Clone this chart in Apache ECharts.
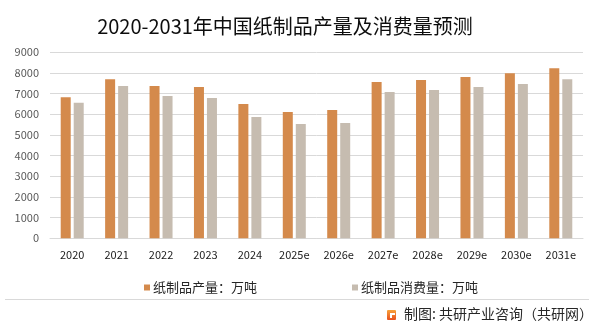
<!DOCTYPE html>
<html>
<head>
<meta charset="utf-8">
<script src="https://cdn.jsdelivr.net/npm/echarts@6/dist/echarts.min.js"></script>
<style>html,body{margin:0;padding:0;background:#fff;}#c{width:596px;height:330px;}</style>
</head>
<body>
<div id="c"></div>
<script>
var categories = ['2020','2021','2022','2023','2024','2025e','2026e','2027e','2028e','2029e','2030e','2031e'];
var production = [6830, 7700, 7370, 7320, 6500, 6110, 6210, 7560, 7660, 7800, 7990, 8230];
var consumption = [6560, 7370, 6880, 6790, 5870, 5530, 5580, 7080, 7180, 7320, 7470, 7700];
var seriesNames = ['纸制品产量：万吨', '纸制品消费量：万吨'];
var titleText = '2020-2031年中国纸制品产量及消费量预测';
var sourceText = '制图: 共研产业咨询（共研网）';

var font = '"Noto Sans CJK SC", "Microsoft YaHei", sans-serif';
var chart = echarts.init(document.getElementById('c'), null, {renderer: 'canvas'});
chart.setOption({
  backgroundColor: '#ffffff',
  animation: false,
  title: {
    text: titleText,
    left: 280, top: 11, textAlign: 'center',
    textStyle: {fontFamily: font, fontSize: 20, fontWeight: 'normal', color: '#0d0d0d'}
  },
  legend: {
    data: seriesNames,
    top: 276, left: 139,
    itemWidth: 6, itemHeight: 6, itemGap: 95,
    icon: 'rect',
    textStyle: {fontFamily: font, fontSize: 13, color: '#262626', padding: [0,0,0,-2]}
  },
  grid: {left: 50, right: 13, top: 52.3, bottom: 91.7},
  xAxis: {
    type: 'category',
    data: categories,
    axisLine: {lineStyle: {color: '#d9d9d9', width: 1}},
    axisTick: {show: false},
    axisLabel: {fontFamily: font, fontSize: 11, color: '#1a1a1a', margin: 11}
  },
  yAxis: {
    type: 'value',
    min: 0, max: 9000, interval: 1000,
    axisLine: {show: false},
    axisTick: {show: false},
    splitLine: {lineStyle: {color: '#d9d9d9', width: 1}},
    axisLabel: {fontFamily: font, fontSize: 11, color: '#595959', margin: 11,
      formatter: function (v) { return String(v); }}
  },
  series: [
    {name: seriesNames[0], type: 'bar', data: production, barWidth: 10, barGap: '30%',
     itemStyle: {color: '#D48A4C'}},
    {name: seriesNames[1], type: 'bar', data: consumption, barWidth: 10,
     itemStyle: {color: '#C6BCB0'}}
  ],
  graphic: [
    {type: 'line', shape: {x1: 5, y1: 299.5, x2: 589, y2: 299.5}, style: {stroke: '#d9d9d9', lineWidth: 1}},
    {type: 'rect', shape: {x: 387, y: 310, width: 9, height: 10, r: 1},
     style: {fill: new echarts.graphic.LinearGradient(0,0,0,1,[{offset:0,color:'#F7A23B'},{offset:1,color:'#E8501E'}])}},
    {type: 'rect', shape: {x: 390, y: 313, width: 5, height: 2}, style: {fill: '#fff'}},
    {type: 'rect', shape: {x: 390, y: 313, width: 2, height: 5}, style: {fill: '#fff'}},
    {type: 'text', left: 404, top: 307,
     style: {text: sourceText, font: '14px ' + font, fill: '#262626'}}
  ]
});
</script>
</body>
</html>
